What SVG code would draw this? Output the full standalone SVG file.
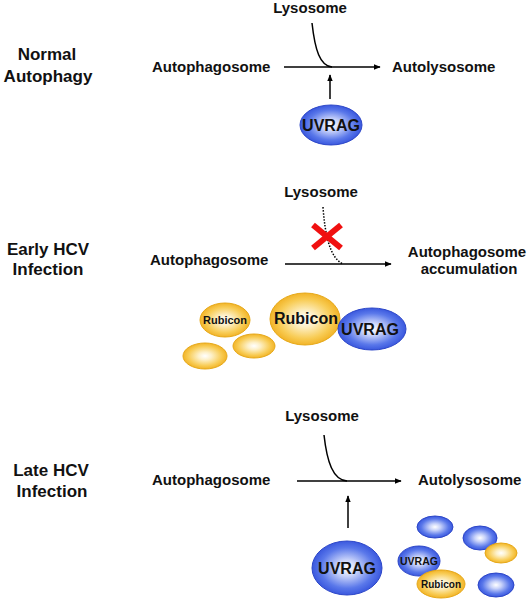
<svg xmlns="http://www.w3.org/2000/svg" width="532" height="599" viewBox="0 0 532 599">
<defs>
<radialGradient id="gb" cx="50%" cy="50%" r="50%">
<stop offset="0" stop-color="#ffffff"/>
<stop offset="0.3" stop-color="#c9d3fa"/>
<stop offset="0.75" stop-color="#5a78ea"/>
<stop offset="1" stop-color="#3a58de"/>
</radialGradient>
<radialGradient id="gy" cx="50%" cy="50%" r="50%">
<stop offset="0" stop-color="#ffffff"/>
<stop offset="0.3" stop-color="#fdf0c8"/>
<stop offset="0.75" stop-color="#f8cc55"/>
<stop offset="1" stop-color="#f2b428"/>
</radialGradient>
<marker id="ah" viewBox="0 0 10 10" refX="9" refY="5" markerWidth="7" markerHeight="7" markerUnits="userSpaceOnUse" orient="auto">
<path d="M0,1 L10,5 L0,9 Z" fill="#000"/>
</marker>
</defs>
<style>
text{font-family:"Liberation Sans",Arial,sans-serif;font-weight:bold;fill:#111;}
.lbl{font-size:17px;text-anchor:middle;}
.t{font-size:15px;}
.c{text-anchor:middle;}
.blue{fill:url(#gb);stroke:#2c46c8;stroke-width:1;}
.yel{fill:url(#gy);stroke:#e6a818;stroke-width:1;}
.ln{stroke:#000;stroke-width:1.5;fill:none;}
</style>
<rect width="532" height="599" fill="#fff"/>

<g id="connectors">
<line class="ln" x1="284" y1="67" x2="380" y2="67" marker-end="url(#ah)"/>
<path class="ln" d="M312,23 C315,50 320,66 332,67"/>
<line class="ln" x1="330" y1="99" x2="330" y2="75" marker-end="url(#ah)"/>

<line class="ln" x1="285" y1="264" x2="391" y2="264" marker-end="url(#ah)"/>
<path d="M323,207 C325,235 330,258 343,264" fill="none" stroke="#000" stroke-width="1.5" stroke-dasharray="1.5,1.5"/>

<line class="ln" x1="297" y1="481" x2="401" y2="481" marker-end="url(#ah)"/>
<path class="ln" d="M324,435 C327,462 333,480 347,481"/>
<line class="ln" x1="348" y1="528" x2="348" y2="496" marker-end="url(#ah)"/>
</g>

<g id="cross">
<line x1="313" y1="225" x2="341" y2="248" stroke="#f01010" stroke-width="6"/>
<line x1="341" y1="225" x2="313" y2="248" stroke="#f01010" stroke-width="6"/>
</g>

<g id="panel1">
<text class="lbl" x="47" y="60">Normal</text>
<text class="lbl" x="48" y="82">Autophagy</text>
<text class="t" x="152" y="72">Autophagosome</text>
<text class="t c" x="310" y="13">Lysosome</text>
<text class="t" x="392" y="72">Autolysosome</text>
<g id="uvrag1">
<ellipse class="blue" cx="331" cy="125" rx="31" ry="20"/>
<text class="c" x="331" y="131" font-size="16">UVRAG</text>
</g>
</g>

<g id="panel2">
<text class="lbl" x="48" y="255">Early HCV</text>
<text class="lbl" x="48" y="275">Infection</text>
<text class="t" x="150" y="265">Autophagosome</text>
<text class="t c" x="321" y="197">Lysosome</text>
<text class="t c" x="467" y="257">Autophagosome</text>
<text class="t c" x="469" y="274">accumulation</text>
<g id="rubicon2a">
<ellipse class="yel" cx="225" cy="320" rx="25" ry="17"/>
<text class="c" x="225" y="324" font-size="11">Rubicon</text>
</g>
<ellipse id="y2a" class="yel" cx="205" cy="356" rx="22" ry="13"/>
<ellipse id="y2b" class="yel" cx="254" cy="346" rx="21" ry="12"/>
<g id="rubicon2b">
<ellipse class="yel" cx="305" cy="319" rx="35" ry="26"/>
<text class="c" x="306" y="324" font-size="16">Rubicon</text>
</g>
<g id="uvrag2">
<ellipse class="blue" cx="372" cy="329" rx="34" ry="21"/>
<text class="c" x="370" y="335" font-size="16">UVRAG</text>
</g>
</g>

<g id="panel3">
<text class="lbl" x="51" y="476">Late HCV</text>
<text class="lbl" x="52" y="497">Infection</text>
<text class="t" x="152" y="485">Autophagosome</text>
<text class="t c" x="322" y="421">Lysosome</text>
<text class="t" x="418" y="485">Autolysosome</text>
<g id="uvrag3">
<ellipse class="blue" cx="347" cy="568" rx="35" ry="27"/>
<text class="c" x="347" y="574" font-size="16">UVRAG</text>
</g>
<ellipse id="b3a" class="blue" cx="435" cy="527" rx="18" ry="11"/>
<ellipse id="b3b" class="blue" cx="480" cy="538" rx="17" ry="12"/>
<ellipse id="y3a" class="yel" cx="501" cy="553" rx="16" ry="10"/>
<ellipse id="b3c" class="blue" cx="496" cy="585" rx="18" ry="12"/>
<g id="uvrag3s">
<ellipse class="blue" cx="419" cy="561" rx="21" ry="15"/>
<text class="c" x="419" y="565" font-size="10.5">UVRAG</text>
</g>
<g id="rubicon3">
<ellipse class="yel" cx="441" cy="584" rx="24" ry="14"/>
<text class="c" x="441" y="588" font-size="10">Rubicon</text>
</g>
</g>
</svg>
